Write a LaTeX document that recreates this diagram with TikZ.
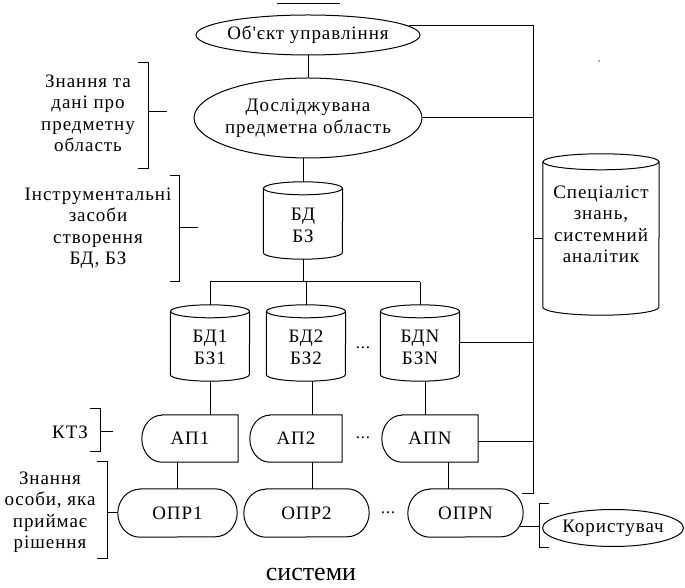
\documentclass[tikz,border=0pt]{standalone}
\usepackage{fontspec}
\setmainfont{Liberation Serif}[Ligatures=TeXOff,LetterSpace=5]
\newfontfamily\plainserif{Liberation Serif}[Ligatures=TeXOff]
\usetikzlibrary{calc,shapes.geometric}

% centred multi-line text that takes no width of its own
\newcommand{\zw}[1]{\makebox[0pt]{\begin{tabular}{@{}c@{}}#1\end{tabular}}}

\begin{document}
\begin{tikzpicture}[x=1pt,y=1pt,
  ln/.style={line width=1pt,draw=black},
  lbl/.style={inner sep=0pt,font=\fontsize{19}{21.5}\selectfont},
  oval/.style={ellipse,draw,line width=1pt,inner sep=0pt,font=\fontsize{19}{21.5}\selectfont},
  body/.style={rectangle,inner sep=0pt,minimum width=79pt,minimum height=76pt},
  apbox/.style={rectangle,inner sep=0pt,minimum height=47pt,font=\fontsize{19}{21.5}\selectfont},
  oprbox/.style={rectangle,inner sep=0pt,minimum height=48pt,font=\fontsize{19}{21.5}\selectfont},
  dotsep/.style={inner sep=0pt,font=\fontsize{17}{19}\selectfont}
]
\useasboundingbox (0,0) rectangle (685,588);

% database cylinder drawn round a named body node
\newcommand{\cylout}[3]{%
  \draw[ln] ($(#1.north west)+(0,-#3)$) -- ($(#1.south west)+(0,#3)$)
     arc[start angle=180,end angle=360,x radius=#2,y radius=#3]
     -- ($(#1.north east)+(0,-#3)$);
  \draw[ln] ($(#1.north)+(0,-#3)$) ellipse[x radius=#2,y radius=#3];}
% box with a rounded left side and a flat right side
\newcommand{\apout}[1]{%
  \draw[ln] ($(#1.north west)+(20,0)$) -- (#1.north east) -- (#1.south east)
     -- ($(#1.south west)+(20,0)$)
     arc[start angle=270,end angle=90,x radius=20pt,y radius=23.5pt] -- cycle;}
% stadium with both ends rounded
\newcommand{\oprout}[1]{%
  \draw[ln] ($(#1.north west)+(22,0)$) -- ($(#1.north east)+(-22,0)$)
     arc[start angle=90,end angle=-90,x radius=22pt,y radius=24pt]
     -- ($(#1.south west)+(22,0)$)
     arc[start angle=270,end angle=90,x radius=22pt,y radius=24pt] -- cycle;}

% short rule above the top oval
\coordinate (stubL) at (277,584);
\coordinate (stubR) at (340,584);
\draw[ln] (stubL) -- (stubR);

% ovals
\node[oval,minimum width=224pt,minimum height=40pt] (obj) at (308,553) {\zw{Об'єкт управління}};
\node[oval,minimum width=228pt,minimum height=80pt] (dom) at (308,470) {\zw{Досліджувана\\предметна область}};

% central database
\node[body,minimum height=77pt] (bd) at (303,367.5) {};
\cylout{bd}{39.5pt}{6.5pt}
\node[lbl] (bd-t) at (303,361) {\zw{БД\\БЗ}};

% database row
\node[body] (c1) at (210,245) {};
\node[body] (c2) at (306,245) {};
\node[body] (cN) at (420,245) {};
\cylout{c1}{39.5pt}{6.5pt}
\cylout{c2}{39.5pt}{6.5pt}
\cylout{cN}{39.5pt}{6.5pt}
\node[lbl] (c1-t) at (210,239) {\zw{БД1\\БЗ1}};
\node[lbl] (c2-t) at (306,239) {\zw{БД2\\БЗ2}};
\node[lbl] (cN-t) at (420,239) {\zw{БДN\\БЗN}};
\node[dotsep] (dots1) at (363,240) {...};

% specialist
\node[body,minimum width=116pt,minimum height=161pt] (spec) at (601,353.5) {};
\cylout{spec}{58pt}{8pt}
\node[lbl] (spec-t) at (601,362) {\zw{Спеціаліст\\знань,\\системний\\аналітик}};

% AP row
\node[apbox,minimum width=96pt] (ap1) at (190,149.5) {АП1};
\node[apbox,minimum width=92pt] (ap2) at (296,149.5) {АП2};
\node[apbox,minimum width=96pt] (apN) at (430,149.5) {АПN};
\apout{ap1}
\apout{ap2}
\apout{apN}
\node[dotsep] (dots2) at (363,150) {...};

% decision makers
\node[oprbox,minimum width=119pt] (opr1) at (177.5,75) {ОПР1};
\node[oprbox,minimum width=125pt] (opr2) at (306.5,75) {ОПР2};
\node[oprbox,minimum width=115pt] (oprN) at (465.5,75) {ОПРN};
\oprout{opr1}
\oprout{opr2}
\oprout{oprN}
\node[dotsep] (dots3) at (388,75) {...};

% user
\node[oval,minimum width=141pt,minimum height=37pt] (kor) at (613,60) {\zw{Користувач}};

% vertical links
\draw[ln] (obj.south) -- (dom.north);
\draw[ln] (bd.north) -- (bd.north |- dom.south);
\coordinate (busL) at (210,306);
\coordinate (busR) at (420,306);
\draw[ln] (bd.south) -- (bd.south |- busL);
\draw[ln] (busL) -- (busR);
\draw[ln] (c1.north) -- (c1.north |- busL);
\draw[ln] (c2.north) -- (c2.north |- busL);
\draw[ln] (cN.north) -- (cN.north |- busL);
\draw[ln] (c1.south) -- ($(ap1.north)+(20,0)$);
\draw[ln] ($(c2.south)+(6,0)$) -- ($(ap2.north)+(16,0)$);
\draw[ln] ($(cN.south)+(5,0)$) -- ($(apN.north)+(-5,0)$);
\draw[ln] ($(ap1.south)+(-12.5,0)$) -- (opr1.north);
\draw[ln] ($(ap2.south)+(16,0)$) -- ($(opr2.north)+(5.5,0)$);
\draw[ln] ($(apN.south)+(18,0)$) -- ($(oprN.north)+(-17.5,0)$);

% right-hand bus
\coordinate (busTop) at (533,562);
\coordinate (busBot) at (533,94);
\coordinate (busEnd) at (522,94);
\draw[ln] ($(obj.east)+(-12,9)$) -- (busTop) -- (busBot) -- (busEnd);
\draw[ln] (dom.east) -- (dom.east -| busTop);
\draw[ln] ($(spec.west)+(0,-4.5)$) coordinate (sp) -- (sp -| busTop);
\draw[ln] (cN.east) -- (cN.east -| busTop);
\draw[ln] ($(apN.east)+(0,-3.5)$) coordinate (ap) -- (ap -| busTop);

% left-hand brackets and their captions
\node[lbl] (k1) at (88,473) {\zw{Знання та\\дані про\\предметну\\область}};
\draw[ln] (138,525) -- (148,525) -- (148,419) -- (138,419);
\coordinate (k1m) at (148,476);
\draw[ln] (k1m) -- ++(19,0);

\node[lbl] (k2) at (98,360) {\zw{Інструментальні\\засоби\\створення\\БД, БЗ}};
\draw[ln] (170,412) -- (179,412) -- (179,306) -- (170,306);
\coordinate (k2m) at (179,360);
\draw[ln] (k2m) -- ++(19,0);

\node[lbl] (k3) at (70,156) {КТЗ};
\draw[ln] (90,179) -- (100,179) -- (100,136) -- (90,136);
\coordinate (k3m) at (100,156);
\draw[ln] (k3m) -- ++(13,0);

\node[lbl] (k4) at (50,76) {\zw{Знання\\особи, яка\\приймає\\рішення}};
\draw[ln] (97,126) -- (107,126) -- (107,29) -- (97,29);
\draw[ln] (opr1.west) -- ++(-11,0);

% bracket in front of the user
\draw[ln] (549,84) -- (539,84) -- (539,40) -- (549,40);
\coordinate (k5m) at (539,61);
\draw[ln] ($(oprN.east)+(-3,-14)$) -- (k5m);

% caption below
\node[inner sep=0pt,font=\plainserif\fontsize{26}{28}\selectfont] (cap) at (311,13) {системи};

% stray mark
\fill[black!60] (599,527) circle[radius=0.8pt];
\end{tikzpicture}
\end{document}
